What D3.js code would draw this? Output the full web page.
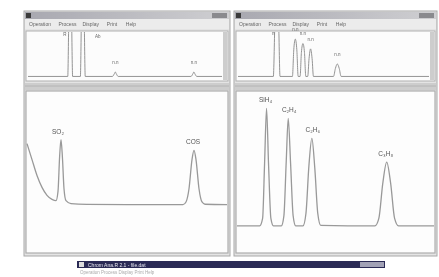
<!DOCTYPE html>
<html>
<head>
<meta charset="utf-8">
<script src="https://cdn.jsdelivr.net/npm/d3@7"></script>
<style>
  body { margin: 0; background: #fff; }
  svg { display: block; font-family: "Liberation Sans", Arial, sans-serif; }
</style>
</head>
<body>
<svg id="chart" width="439" height="277"></svg>
<script>
// time (min), signal
const leftMain = [[0,46],[0.25,34],[0.5,22],[0.75,13],[1.0,7],[1.25,4],[1.45,3],[1.55,10],[1.63,36],[1.7,49],[1.77,36],[1.85,12],[1.95,3],[2.2,0.8],[3,0.2],[5,0],[7.8,0],[7.95,2],[8.1,12],[8.25,34],[8.35,41],[8.45,34],[8.6,12],[8.75,2],[8.9,0.3],[10,0]];
const rightMain = [[0,0],[1.15,0],[1.3,6],[1.4,50],[1.5,94],[1.6,50],[1.72,6],[1.85,0],[2.25,0],[2.38,8],[2.5,52],[2.6,86],[2.72,50],[2.85,8],[2.98,0],[3.35,0],[3.5,10],[3.65,48],[3.8,70],[3.95,46],[4.1,10],[4.25,0.5],[7.0,0],[7.2,6],[7.4,34],[7.6,51],[7.8,34],[8.0,6],[8.2,0],[10,0]];
const leftOverview = [[0,0],[2.05,0],[2.1,60],[2.18,120],[2.25,60],[2.3,0],[2.7,0],[2.75,60],[2.82,120],[2.9,60],[2.95,0],[4.35,0],[4.45,3],[4.5,5],[4.55,3],[4.65,0],[8.4,0],[8.5,3],[8.55,5],[8.6,3],[8.7,0],[10,0]];
const rightOverview = [[0,0],[1.85,0],[1.93,60],[2.03,120],[2.13,60],[2.2,0],[2.85,0],[2.92,30],[3.0,42],[3.08,30],[3.15,0],[3.25,0],[3.32,27],[3.4,37],[3.48,27],[3.55,0],[3.65,0],[3.72,20],[3.8,31],[3.88,20],[3.95,0],[5.0,0],[5.1,9],[5.2,14],[5.3,9],[5.4,0],[10,0]];

const leftLabels = [{ t: 1.55, v: 49, text: "SO₂" }, { t: 8.3, v: 41, text: "COS" }];
const rightLabels = [{ t: 1.45, v: 94, text: "SiH₄" }, { t: 2.65, v: 86, text: "C₂H₄" }, { t: 3.85, v: 70, text: "C₂H₆" }, { t: 7.55, v: 51, text: "C₃H₈" }];
const leftOvLabels = [{ t: 1.9, v: 44, text: "R" }, { t: 3.6, v: 42, text: "Ab" }, { t: 4.5, v: 13, text: "n.n" }, { t: 8.55, v: 13, text: "n.n" }];
const rightOvLabels = [{ t: 1.85, v: 46, text: "n" }, { t: 3.0, v: 50, text: "n.n" }, { t: 3.4, v: 45, text: "n.n" }, { t: 3.8, v: 39, text: "n.n" }, { t: 5.2, v: 22, text: "n.n" }];
const menuItems = ["Operation", "Process", "Display", "Print", "Help"];

const svg = d3.select("#chart");

const defs = svg.append("defs");
defs.append("filter").attr("id", "soft")
    .append("feGaussianBlur").attr("stdDeviation", 0.6);
const grad = defs.append("linearGradient").attr("id", "title").attr("x1", 0).attr("x2", 1);
grad.append("stop").attr("offset", "0%").attr("stop-color", "#a8a8b0");
grad.append("stop").attr("offset", "100%").attr("stop-color", "#cfcfd2");

const root = svg.append("g").attr("filter", "url(#soft)");

function drawWindow(x0, x1, main, labels, ov, ovLabels, mainDomain, id) {
    const g = root.append("g");
    // frame
    g.append("rect").attr("x", x0).attr("y", 11).attr("width", x1 - x0).attr("height", 245)
        .attr("fill", "#e4e4e4").attr("stroke", "#a8a8a8");
    // title bar
    g.append("rect").attr("x", x0 + 1).attr("y", 12).attr("width", x1 - x0 - 2).attr("height", 7)
        .attr("fill", "url(#title)");
    g.append("rect").attr("x", x0 + 2).attr("y", 13).attr("width", 5).attr("height", 5).attr("fill", "#3a3a3a");
    g.append("rect").attr("x", x1 - 18).attr("y", 13).attr("width", 15).attr("height", 5).attr("fill", "#8a8a8e");
    // menu
    g.append("rect").attr("x", x0 + 1).attr("y", 19).attr("width", x1 - x0 - 2).attr("height", 10).attr("fill", "#ececec");
    let mx = x0 + 5;
    menuItems.forEach(m => {
        g.append("text").attr("x", mx).attr("y", 26).attr("font-size", 5).attr("fill", "#666").text(m);
        mx += m.length * 2.6 + 6;
    });

    // overview panel
    const ovTop = 31, ovBot = 81;
    g.append("rect").attr("x", x0 + 2).attr("y", ovTop).attr("width", x1 - x0 - 4).attr("height", ovBot - ovTop)
        .attr("fill", "#fcfcfc").attr("stroke", "#b0b0b0");
    g.append("rect").attr("x", x1 - 7).attr("y", ovTop + 1).attr("width", 4).attr("height", ovBot - ovTop - 2).attr("fill", "#cdcdcd");
    const xo = d3.scaleLinear().domain([0, 10]).range([x0 + 4, x1 - 8]);
    const yo = d3.scaleLinear().domain([-4, 50]).range([ovBot - 1, ovTop + 1]);
    g.append("clipPath").attr("id", "clip-ov-" + id).append("rect")
        .attr("x", x0 + 3).attr("y", ovTop + 1).attr("width", x1 - x0 - 6).attr("height", ovBot - ovTop - 2);
    g.append("path").datum(ov)
        .attr("clip-path", `url(#clip-ov-${id})`)
        .attr("d", d3.line().x(d => xo(d[0])).y(d => yo(d[1])).curve(d3.curveMonotoneX))
        .attr("fill", "none").attr("stroke", "#888").attr("stroke-width", 0.9);
    ovLabels.forEach(l => {
        g.append("text").attr("x", xo(l.t)).attr("y", yo(l.v) - 1).attr("text-anchor", "middle")
            .attr("font-size", 4.5).attr("fill", "#666").text(l.text);
    });

    // splitter
    g.append("rect").attr("x", x0 + 1).attr("y", 83).attr("width", x1 - x0 - 2).attr("height", 7).attr("fill", "#cdcdcd");
    g.append("line").attr("x1", x0 + 1).attr("x2", x1 - 1).attr("y1", 86).attr("y2", 86).attr("stroke", "#b4b4b4");

    // main panel
    const mTop = 91, mBot = 253;
    g.append("rect").attr("x", x0 + 2).attr("y", mTop).attr("width", x1 - x0 - 4).attr("height", mBot - mTop)
        .attr("fill", "#fdfdfd").attr("stroke", "#adadad").attr("stroke-width", 1.2);
    const x = d3.scaleLinear().domain([0, 10]).range([x0 + 3, x1 - 3]);
    const y = d3.scaleLinear().domain(mainDomain).range([mBot - 2, mTop + 1]);
    g.append("path").datum(main)
        .attr("d", d3.line().x(d => x(d[0])).y(d => y(d[1])).curve(d3.curveMonotoneX))
        .attr("fill", "none").attr("stroke", "#999").attr("stroke-width", 1.3);
    labels.forEach(l => {
        g.append("text").attr("x", x(l.t)).attr("y", y(l.v) - 6).attr("text-anchor", "middle")
            .attr("font-size", 6.5).attr("fill", "#555").text(l.text);
    });
}

drawWindow(24, 230, leftMain, leftLabels, leftOverview, leftOvLabels, [-35, 85], "l");
drawWindow(234, 437, rightMain, rightLabels, rightOverview, rightOvLabels, [-20, 107], "r");

// task bar at the bottom
root.append("rect").attr("x", 77).attr("y", 261).attr("width", 308).attr("height", 7).attr("fill", "#2a2a55");
root.append("rect").attr("x", 360).attr("y", 262).attr("width", 24).attr("height", 5).attr("fill", "#a2a2b6");
root.append("rect").attr("x", 79).attr("y", 262).attr("width", 5).attr("height", 5).attr("fill", "#ddd");
root.append("text").attr("x", 88).attr("y", 266.5).attr("font-size", 5).attr("fill", "#e8e8f0")
    .text("Chrom Ana.R 2.1 - file.dat");
root.append("text").attr("x", 80).attr("y", 274).attr("font-size", 4.5).attr("fill", "#aaa")
    .text("Operation   Process   Display   Print   Help");
</script>
</body>
</html>
